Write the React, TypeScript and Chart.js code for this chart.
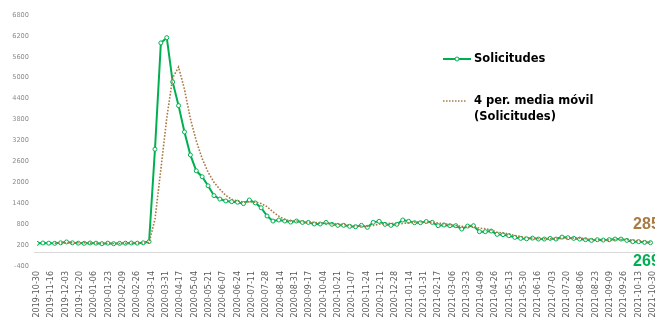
import { useEffect, useRef } from "react";
import { Chart, registerables } from "chart.js";

Chart.register(...registerables);

// ---- data ----
const firstWeek = "2019-10-30";
const seriesName = "Solicitudes";
const trendLines = ["4 per. media móvil", "(Solicitudes)"];
const maPeriod = 4;

const solicitudes = [
  250, 260, 255, 250, 265, 290, 265, 255, 250, 260,
  255, 240, 255, 240, 250, 255, 260, 255, 265, 300,
  2950, 6000, 6150, 4880, 4200, 3445, 2785, 2330, 2160, 1900,
  1620, 1520, 1465, 1445, 1430, 1390, 1495, 1410, 1270, 1035,
  890, 920, 890, 860, 890, 850, 850, 805, 805, 850,
  795, 766, 766, 738, 727, 766, 708, 852, 881, 795,
  766, 795, 919, 881, 841, 841, 875, 852, 756, 775,
  756, 756, 660, 746, 756, 584, 584, 603, 507, 498,
  469, 421, 392, 380, 400, 373, 373, 392, 373, 430,
  412, 392, 373, 354, 335, 354, 344, 354, 373, 373,
  335, 297, 297, 278, 269,
];

const xTickLabels = [
  "2019-10-30", "2019-11-16", "2019-12-03", "2019-12-20", "2020-01-06",
  "2020-01-23", "2020-02-09", "2020-02-26", "2020-03-14", "2020-03-31",
  "2020-04-17", "2020-05-04", "2020-05-21", "2020-06-07", "2020-06-24",
  "2020-07-11", "2020-07-28", "2020-08-14", "2020-08-31", "2020-09-17",
  "2020-10-04", "2020-10-21", "2020-11-07", "2020-11-24", "2020-12-11",
  "2020-12-28", "2021-01-14", "2021-01-31", "2021-02-17", "2021-03-06",
  "2021-03-23", "2021-04-09", "2021-04-26", "2021-05-13", "2021-05-30",
  "2021-06-16", "2021-07-03", "2021-07-20", "2021-08-06", "2021-08-23",
  "2021-09-09", "2021-09-26", "2021-10-13", "2021-10-30",
];

const yTickValues = [-400, 200, 800, 1400, 2000, 2600, 3200, 3800, 4400, 5000, 5600, 6200, 6800];

// ---- helpers ----
const DAY = 86400000;
const dayOf = (s: string) =>
  (Date.parse(s + "T00:00:00Z") - Date.parse(firstWeek + "T00:00:00Z")) / DAY;

const GREEN = "#00B050";
const BROWN = "#A87B45";
const FONT = "DejaVu Sans";

export default function App() {
  const ref = useRef<HTMLCanvasElement | null>(null);

  useEffect(() => {
    document.body.style.margin = "0";
    document.body.style.overflow = "hidden";
    document.documentElement.style.overflow = "hidden";
    if (!ref.current) return;

    const points = solicitudes.map((v, i) => ({ x: i * 7, y: v }));
    const ma: { x: number; y: number }[] = [];
    for (let i = maPeriod - 1; i < solicitudes.length; i++) {
      let s = 0;
      for (let k = 0; k < maPeriod; k++) s += solicitudes[i - k];
      ma.push({ x: i * 7, y: s / maPeriod });
    }

    const zeroLine = {
      id: "zeroLine",
      beforeDatasetsDraw(chart: any) {
        const { ctx, chartArea, scales } = chart;
        const y = Math.round(scales.y.getPixelForValue(0)) + 0.5;
        ctx.save();
        ctx.strokeStyle = "#d9d9d9";
        ctx.lineWidth = 1;
        ctx.beginPath();
        ctx.moveTo(chartArea.left - 3, y);
        ctx.lineTo(chartArea.right + 10, y);
        ctx.stroke();
        ctx.restore();
      },
    };

    const endLabels = {
      id: "endLabels",
      afterDatasetsDraw(chart: any) {
        const { ctx } = chart;
        const maMeta = chart.getDatasetMeta(0);
        const sMeta = chart.getDatasetMeta(1);
        const maPt = maMeta.data[maMeta.data.length - 1];
        const sPt = sMeta.data[sMeta.data.length - 1];
        ctx.save();
        ctx.font = `bold 16px "Liberation Sans"`;
        ctx.textAlign = "center";
        ctx.textBaseline = "middle";
        ctx.fillStyle = BROWN;
        ctx.fillText(String(Math.round(ma[ma.length - 1].y)), maPt.x - 4, maPt.y - 18);
        ctx.fillStyle = GREEN;
        ctx.fillText(String(solicitudes[solicitudes.length - 1]), sPt.x - 4, sPt.y + 19);
        ctx.restore();
      },
    };

    const legend = {
      id: "customLegend",
      afterDraw(chart: any) {
        const { ctx } = chart;
        ctx.save();
        ctx.strokeStyle = GREEN;
        ctx.lineWidth = 2;
        ctx.beginPath();
        ctx.moveTo(443, 59);
        ctx.lineTo(471, 59);
        ctx.stroke();
        ctx.fillStyle = "#fff";
        ctx.lineWidth = 1;
        ctx.beginPath();
        ctx.arc(457, 59, 2, 0, Math.PI * 2);
        ctx.fill();
        ctx.stroke();
        ctx.strokeStyle = BROWN;
        ctx.lineWidth = 1.5;
        ctx.setLineDash([1.5, 1.5]);
        ctx.beginPath();
        ctx.moveTo(443, 101);
        ctx.lineTo(467, 101);
        ctx.stroke();
        ctx.setLineDash([]);
        ctx.fillStyle = "#000";
        ctx.font = `bold 11.5px "${FONT}"`;
        ctx.textAlign = "left";
        ctx.textBaseline = "middle";
        ctx.fillText(seriesName, 474, 59);
        ctx.fillText(trendLines[0], 474, 101);
        ctx.fillText(trendLines[1], 474, 117);
        ctx.restore();
      },
    };

    const chart = new Chart(ref.current, {
      type: "line",
      data: {
        datasets: [
          {
            label: trendLines.join(" "),
            data: ma,
            borderColor: BROWN,
            borderWidth: 1.6,
            borderDash: [1.6, 1.6],
            pointRadius: 0,
            fill: false,
            tension: 0,
          },
          {
            label: seriesName,
            data: points,
            borderColor: GREEN,
            borderWidth: 2,
            pointRadius: 2,
            pointBorderWidth: 1,
            pointBackgroundColor: "#ffffff",
            pointBorderColor: GREEN,
            fill: false,
            tension: 0,
          },
        ],
      },
      options: {
        animation: false,
        responsive: true,
        maintainAspectRatio: false,
        layout: { padding: { top: 15, right: 27, left: 0, bottom: 0 } },
        plugins: {
          legend: { display: false },
          tooltip: { enabled: false },
        },
        scales: {
          x: {
            type: "linear",
            min: 0,
            max: dayOf(xTickLabels[xTickLabels.length - 1]),
            grid: { display: false, drawTicks: false },
            border: { display: false },
            afterBuildTicks: (axis: any) => {
              axis.ticks = xTickLabels.map((l) => ({ value: dayOf(l) }));
            },
            afterFit: (axis: any) => {
              axis.height = 64;
            },
            ticks: {
              autoSkip: false,
              minRotation: 90,
              maxRotation: 90,
              padding: 5,
              color: "#595959",
              font: { family: FONT, size: 8 },
              callback: (_v: any, i: number) => xTickLabels[i],
            },
          },
          y: {
            type: "linear",
            min: yTickValues[0],
            max: yTickValues[yTickValues.length - 1],
            grid: { display: false, drawTicks: false },
            border: { display: false },
            afterBuildTicks: (axis: any) => {
              axis.ticks = yTickValues.map((v) => ({ value: v }));
            },
            afterFit: (axis: any) => {
              axis.width = 37;
            },
            ticks: {
              padding: 8,
              color: "#8c8c8c",
              font: { family: FONT, size: 6.6 },
              callback: (v: any) => String(v),
            },
          },
        },
      },
      plugins: [zeroLine, endLabels, legend],
    });

    return () => chart.destroy();
  }, []);

  return (
    <div style={{ position: "relative", width: 680, height: 330 }}>
      <canvas ref={ref} />
    </div>
  );
}
